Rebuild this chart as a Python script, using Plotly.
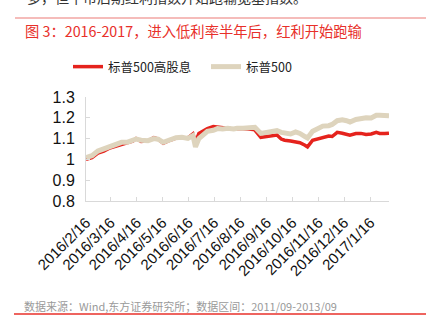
import plotly.graph_objects as go

dates = ["2016-02-16","2016-02-23","2016-03-01","2016-03-08","2016-03-15","2016-03-22","2016-03-29",
         "2016-04-05","2016-04-11","2016-04-15","2016-04-21","2016-04-29","2016-05-06","2016-05-11",
         "2016-05-17","2016-05-25","2016-06-01","2016-06-08","2016-06-15","2016-06-21","2016-06-24",
         "2016-06-28","2016-07-04","2016-07-08","2016-07-15","2016-07-20","2016-07-26","2016-08-01",
         "2016-08-08","2016-08-12","2016-08-19","2016-08-25","2016-08-31","2016-09-02","2016-09-09",
         "2016-09-13","2016-09-16","2016-09-23","2016-09-28","2016-10-03","2016-10-07","2016-10-14",
         "2016-10-20","2016-10-25","2016-10-31","2016-11-03","2016-11-09","2016-11-14","2016-11-21",
         "2016-11-28","2016-12-02","2016-12-08","2016-12-14","2016-12-19","2016-12-23","2016-12-30",
         "2017-01-05","2017-01-11","2017-01-17","2017-01-23","2017-01-27","2017-02-02","2017-02-07"]

sp500_hd = [1.000,1.008,1.030,1.040,1.055,1.063,1.075,1.080,1.088,1.100,1.086,1.090,1.105,1.098,
            1.078,1.092,1.102,1.105,1.103,1.122,1.083,1.125,1.138,1.148,1.158,1.156,1.154,1.148,
            1.146,1.148,1.149,1.146,1.144,1.141,1.106,1.108,1.110,1.115,1.117,1.098,1.092,1.088,
            1.085,1.080,1.068,1.060,1.092,1.098,1.103,1.112,1.110,1.130,1.126,1.122,1.116,1.124,
            1.125,1.120,1.122,1.130,1.125,1.124,1.126]

sp500 = [1.008,1.018,1.040,1.050,1.062,1.070,1.082,1.083,1.090,1.098,1.092,1.090,1.100,1.097,
         1.082,1.095,1.104,1.106,1.101,1.115,1.060,1.100,1.118,1.135,1.140,1.148,1.146,1.150,
         1.146,1.150,1.150,1.150,1.152,1.154,1.125,1.128,1.135,1.138,1.138,1.130,1.126,1.122,
         1.132,1.125,1.110,1.103,1.135,1.148,1.160,1.162,1.168,1.186,1.190,1.186,1.180,1.192,
         1.199,1.200,1.199,1.212,1.212,1.210,1.210]

tick_vals = ["2016-02-16","2016-03-16","2016-04-16","2016-05-16","2016-06-16","2016-07-16",
             "2016-08-16","2016-09-16","2016-10-16","2016-11-16","2016-12-16","2017-01-16"]
tick_text = ["2016/2/16","2016/3/16","2016/4/16","2016/5/16","2016/6/16","2016/7/16",
             "2016/8/16","2016/9/16","2016/10/16","2016/11/16","2016/12/16","2017/1/16"]

CJK = "Noto Sans CJK SC"
LAT = "Liberation Sans, Arial"

W, H = 426, 330
L, R, T, B = 86, 389, 97, 201  # plot area in pixels

def px_x(x):
    return (x - L) / (R - L)

def px_y(y):
    return (B - y) / (B - T)

fig = go.Figure()
fig.add_trace(go.Scatter(x=dates, y=sp500_hd, mode="lines", name="标普500高股息",
                         line=dict(color="#E5231D", width=3.5)))
fig.add_trace(go.Scatter(x=dates, y=sp500, mode="lines", name="标普500",
                         line=dict(color="#DED4BD", width=5)))

fig.update_layout(
    width=W, height=H,
    margin=dict(l=L, r=W - R, t=T, b=H - B, autoexpand=False),
    paper_bgcolor="white", plot_bgcolor="white",
    showlegend=True,
    legend=dict(orientation="h", xref="container", x=68 / W, xanchor="left",
                yref="container", y=1 - 67 / H, yanchor="middle",
                font=dict(family=CJK, size=12.5, color="#222"),
                itemwidth=30, tracegroupgap=0, bgcolor="rgba(0,0,0,0)",
                entrywidth=93, entrywidthmode="pixels"),
    xaxis=dict(type="date", range=["2016-02-16", "2017-02-07"],
               tickvals=tick_vals, ticktext=tick_text, tickangle=-45,
               tickfont=dict(family=LAT, size=15, color="#111"),
               showgrid=False, showline=True, linecolor="#D9D9D9", linewidth=1,
               ticks="inside", ticklen=4, tickcolor="#D9D9D9", zeroline=False,
               ticklabelstandoff=6, automargin=False),
    yaxis=dict(range=[0.8, 1.3], tickvals=[0.8, 0.9, 1.0, 1.1, 1.2, 1.3],
               ticktext=["0.8", "0.9", "1", "1.1", "1.2", "1.3"],
               tickfont=dict(family=LAT, size=16, color="#111"),
               showgrid=False, showline=True, linecolor="#D9D9D9", linewidth=1,
               ticks="inside", ticklen=4, tickcolor="#D9D9D9", zeroline=False,
               ticklabelstandoff=7, automargin=False),
)

# header / footer
fig.add_annotation(xref="paper", yref="paper", x=px_x(25), y=px_y(-3), xanchor="left", yanchor="middle",
                   text="多，但牛市后期红利指数开始跑输宽基指数。", showarrow=False,
                   font=dict(family=CJK, size=14, color="#333"))
fig.add_annotation(xref="paper", yref="paper", x=px_x(23), y=px_y(30), xanchor="left", yanchor="middle",
                   text="图 3：2016-2017，进入低利率半年后，红利开始跑输", showarrow=False,
                   font=dict(family=CJK, size=14.3, color="#E8302A"))
fig.add_annotation(xref="paper", yref="paper", x=px_x(22), y=px_y(306), xanchor="left", yanchor="middle",
                   text="数据来源：Wind,东方证券研究所；数据区间：2011/09-2013/09", showarrow=False,
                   font=dict(family=CJK, size=11, color="#9A9A9A"))
fig.add_shape(type="line", xref="paper", yref="paper", x0=px_x(15), x1=px_x(426),
              y0=px_y(18), y1=px_y(18), line=dict(color="#F2A6A3", width=1.5))
fig.add_shape(type="line", xref="paper", yref="paper", x0=px_x(14), x1=px_x(426),
              y0=px_y(314), y1=px_y(314), line=dict(color="#E8302A", width=1.5))

fig.write_html("out.html")
